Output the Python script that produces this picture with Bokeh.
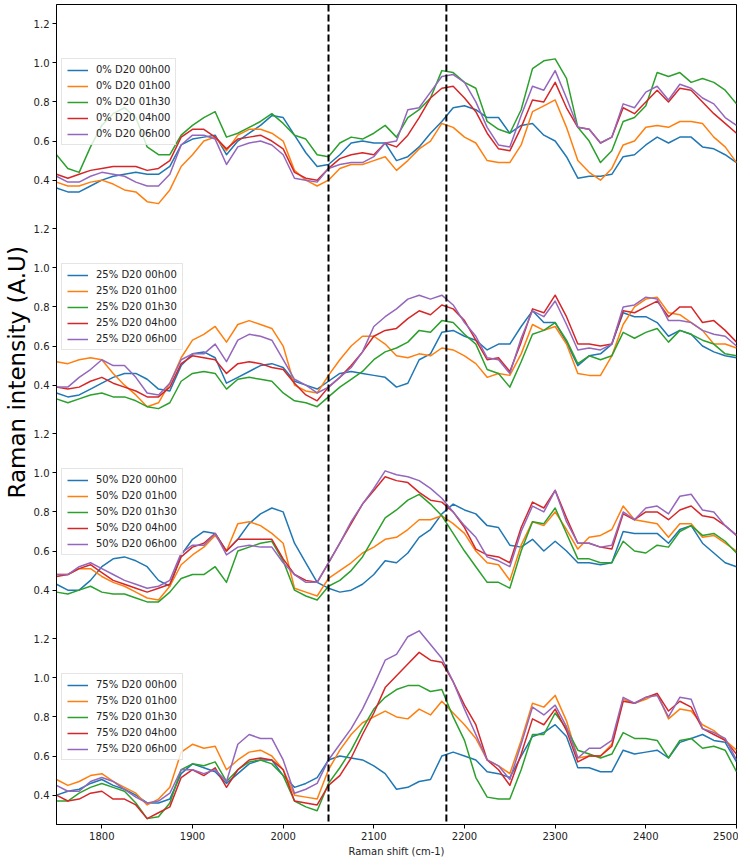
import numpy as np
from bokeh.plotting import figure
from bokeh.models import Range1d, FixedTicker, Span, Legend, LegendItem, Title
from bokeh.embed import file_html
from bokeh.resources import INLINE

# x sampling grid (cm-1)
raman_shift = np.arange(1750.0, 2500.01, 12.5)

# ---------------- 0% D20 ----------------
c0_t0000 = [0.36, 0.34, 0.34, 0.37, 0.40, 0.42, 0.43, 0.44, 0.43, 0.43, 0.47, 0.58, 0.61, 0.62, 0.63, 0.53, 0.60, 0.64, 0.68,
            0.73, 0.72, 0.63, 0.54, 0.47, 0.48, 0.53, 0.59, 0.60, 0.59, 0.59, 0.50, 0.52, 0.57, 0.64, 0.70, 0.77, 0.78, 0.76, 0.72,
            0.72,
            0.64, 0.68, 0.69, 0.63, 0.60, 0.52, 0.41, 0.42, 0.42, 0.43, 0.52, 0.53, 0.58, 0.62, 0.59, 0.62, 0.62, 0.57, 0.56, 0.53, 0.49]
c0_t0100 = [0.39, 0.37, 0.37, 0.39, 0.40, 0.38, 0.35, 0.34, 0.29, 0.28, 0.35, 0.47, 0.53, 0.60, 0.62, 0.55, 0.63, 0.66, 0.66,
            0.64, 0.60, 0.45, 0.40, 0.37, 0.40, 0.46, 0.48, 0.48, 0.50, 0.52, 0.45, 0.50, 0.56, 0.60, 0.69, 0.67, 0.62, 0.59, 0.50,
            0.49,
            0.49, 0.58, 0.75, 0.78, 0.81, 0.67, 0.50, 0.44, 0.40, 0.46, 0.58, 0.60, 0.67, 0.68, 0.67, 0.70, 0.70, 0.69, 0.62, 0.57, 0.49]
c0_t0130 = [0.53, 0.46, 0.44, 0.57, 0.68, 0.74, 0.77, 0.72, 0.57, 0.53, 0.53, 0.63, 0.68, 0.72, 0.75, 0.62, 0.64, 0.67, 0.70,
            0.74, 0.69, 0.63, 0.61, 0.53, 0.52, 0.59, 0.62, 0.61, 0.64, 0.68, 0.62, 0.72, 0.76, 0.82, 0.96, 0.95, 0.90, 0.87, 0.70,
            0.66,
            0.64, 0.76, 0.97, 1.01, 1.02, 0.92, 0.67, 0.60, 0.49, 0.55, 0.70, 0.72, 0.78, 0.95, 0.93, 0.95, 0.90, 0.92, 0.90, 0.86, 0.79]
c0_t0400 = [0.43, 0.41, 0.43, 0.45, 0.46, 0.47, 0.47, 0.47, 0.45, 0.46, 0.50, 0.62, 0.66, 0.66, 0.62, 0.56, 0.61, 0.62, 0.63,
            0.60, 0.56, 0.44, 0.41, 0.40, 0.46, 0.51, 0.53, 0.54, 0.53, 0.59, 0.57, 0.63, 0.72, 0.82, 0.87, 0.88, 0.82, 0.75, 0.64,
            0.56,
            0.55, 0.67, 0.81, 0.80, 0.90, 0.77, 0.67, 0.66, 0.59, 0.62, 0.77, 0.74, 0.80, 0.86, 0.80, 0.87, 0.86, 0.80, 0.74, 0.69, 0.64]
c0_t0600 = [0.42, 0.39, 0.39, 0.42, 0.44, 0.43, 0.42, 0.39, 0.37, 0.37, 0.43, 0.58, 0.63, 0.63, 0.61, 0.48, 0.57, 0.59, 0.60,
            0.58, 0.53, 0.41, 0.40, 0.39, 0.46, 0.48, 0.49, 0.49, 0.52, 0.59, 0.60, 0.76, 0.77, 0.85, 0.93, 0.94, 0.90, 0.80, 0.67,
            0.58,
            0.57, 0.73, 0.88, 0.86, 0.96, 0.82, 0.67, 0.66, 0.59, 0.62, 0.79, 0.77, 0.85, 0.88, 0.81, 0.89, 0.87, 0.82, 0.79, 0.72, 0.68]

# ---------------- 25% D20 ----------------
c25_t0000 = [0.36, 0.34, 0.35, 0.38, 0.41, 0.44, 0.46, 0.46, 0.43, 0.38, 0.37, 0.50, 0.56, 0.57, 0.54, 0.41, 0.44, 0.47, 0.50,
             0.51, 0.49, 0.42, 0.40, 0.38, 0.42, 0.46, 0.47, 0.46, 0.45, 0.44, 0.39, 0.41, 0.53, 0.56, 0.67, 0.68, 0.65, 0.63, 0.58,
             0.61,
             0.61, 0.70, 0.78, 0.72, 0.72, 0.62, 0.50, 0.55, 0.56, 0.61, 0.77, 0.75, 0.75, 0.72, 0.65, 0.68, 0.66, 0.60, 0.57, 0.55, 0.54]
c25_t0100 = [0.52, 0.51, 0.53, 0.54, 0.53, 0.46, 0.40, 0.35, 0.29, 0.31, 0.41, 0.54, 0.63, 0.66, 0.70, 0.62, 0.71, 0.73, 0.71,
             0.69, 0.60, 0.40, 0.37, 0.36, 0.45, 0.53, 0.60, 0.65, 0.65, 0.61, 0.55, 0.54, 0.56, 0.55, 0.59, 0.58, 0.55, 0.51, 0.44,
             0.46,
             0.45, 0.56, 0.71, 0.68, 0.70, 0.61, 0.46, 0.45, 0.45, 0.55, 0.71, 0.80, 0.84, 0.85, 0.77, 0.76, 0.72, 0.68, 0.61, 0.61, 0.59]
c25_t0130 = [0.33, 0.31, 0.33, 0.35, 0.36, 0.34, 0.34, 0.32, 0.29, 0.28, 0.31, 0.42, 0.46, 0.47, 0.46, 0.38, 0.43, 0.44, 0.43,
             0.42, 0.36, 0.32, 0.31, 0.29, 0.34, 0.39, 0.43, 0.47, 0.53, 0.57, 0.59, 0.62, 0.68, 0.67, 0.73, 0.72, 0.66, 0.61, 0.48,
             0.46,
             0.39, 0.52, 0.66, 0.68, 0.72, 0.63, 0.51, 0.55, 0.53, 0.55, 0.67, 0.64, 0.67, 0.69, 0.62, 0.68, 0.66, 0.63, 0.61, 0.56, 0.55]
c25_t0400 = [0.39, 0.38, 0.39, 0.42, 0.44, 0.41, 0.39, 0.37, 0.34, 0.34, 0.39, 0.51, 0.55, 0.54, 0.53, 0.46, 0.51, 0.52, 0.51,
             0.49, 0.48, 0.41, 0.35, 0.32, 0.39, 0.44, 0.50, 0.57, 0.65, 0.68, 0.69, 0.74, 0.78, 0.76, 0.81, 0.79, 0.73, 0.63, 0.53,
             0.54,
             0.47, 0.62, 0.79, 0.77, 0.86, 0.75, 0.61, 0.61, 0.60, 0.61, 0.78, 0.77, 0.80, 0.83, 0.75, 0.80, 0.80, 0.72, 0.73, 0.68, 0.62]
c25_t0600 = [0.39, 0.39, 0.44, 0.48, 0.53, 0.50, 0.50, 0.44, 0.36, 0.35, 0.41, 0.53, 0.56, 0.56, 0.61, 0.52, 0.63, 0.66, 0.65,
             0.63, 0.53, 0.43, 0.40, 0.36, 0.39, 0.44, 0.49, 0.57, 0.70, 0.75, 0.79, 0.84, 0.86, 0.84, 0.86, 0.81, 0.72, 0.65, 0.54,
             0.53,
             0.46, 0.64, 0.78, 0.75, 0.83, 0.71, 0.58, 0.59, 0.58, 0.61, 0.80, 0.81, 0.85, 0.84, 0.73, 0.73, 0.72, 0.68, 0.66, 0.65, 0.60]

# ---------------- 50% D20 ----------------
c50_t0000 = [0.43, 0.40, 0.40, 0.45, 0.52, 0.56, 0.57, 0.55, 0.52, 0.45, 0.42, 0.58, 0.66, 0.70, 0.69, 0.60, 0.66, 0.74, 0.79,
             0.82, 0.80, 0.64, 0.54, 0.44, 0.41, 0.39, 0.40, 0.43, 0.48, 0.55, 0.54, 0.59, 0.67, 0.71, 0.79, 0.84, 0.81, 0.79, 0.73,
             0.72,
             0.63, 0.62, 0.66, 0.60, 0.65, 0.60, 0.54, 0.54, 0.53, 0.54, 0.70, 0.69, 0.69, 0.69, 0.64, 0.71, 0.73, 0.64, 0.59, 0.54, 0.52]
c50_t0100 = [0.48, 0.48, 0.51, 0.51, 0.47, 0.44, 0.42, 0.39, 0.36, 0.35, 0.42, 0.53, 0.58, 0.62, 0.68, 0.60, 0.74, 0.75, 0.73,
             0.69, 0.64, 0.41, 0.39, 0.37, 0.46, 0.50, 0.54, 0.59, 0.62, 0.66, 0.67, 0.71, 0.76, 0.76, 0.78, 0.74, 0.69, 0.60, 0.54,
             0.53,
             0.45, 0.63, 0.75, 0.73, 0.80, 0.71, 0.61, 0.67, 0.68, 0.71, 0.83, 0.76, 0.75, 0.74, 0.67, 0.74, 0.74, 0.67, 0.68, 0.64, 0.60]
c50_t0130 = [0.39, 0.38, 0.40, 0.42, 0.39, 0.38, 0.38, 0.36, 0.34, 0.34, 0.39, 0.46, 0.48, 0.48, 0.52, 0.44, 0.60, 0.62, 0.64,
             0.65, 0.55, 0.40, 0.37, 0.35, 0.42, 0.45, 0.50, 0.57, 0.67, 0.77, 0.81, 0.86, 0.89, 0.84, 0.78, 0.69, 0.60, 0.52, 0.44,
             0.44,
             0.41, 0.60, 0.75, 0.74, 0.82, 0.69, 0.56, 0.56, 0.54, 0.54, 0.65, 0.60, 0.59, 0.63, 0.62, 0.70, 0.73, 0.68, 0.69, 0.65, 0.59]
c50_t0400 = [0.47, 0.48, 0.51, 0.53, 0.49, 0.45, 0.43, 0.41, 0.39, 0.41, 0.43, 0.57, 0.62, 0.64, 0.69, 0.60, 0.66, 0.66, 0.66,
             0.66, 0.56, 0.48, 0.45, 0.44, 0.54, 0.64, 0.74, 0.84, 0.91, 0.98, 0.96, 0.95, 0.90, 0.86, 0.85, 0.80, 0.72, 0.61, 0.58,
             0.57,
             0.54, 0.72, 0.85, 0.82, 0.91, 0.77, 0.64, 0.64, 0.62, 0.61, 0.79, 0.76, 0.80, 0.80, 0.76, 0.81, 0.83, 0.78, 0.77, 0.73, 0.68]
c50_t0600 = [0.48, 0.48, 0.52, 0.54, 0.51, 0.48, 0.45, 0.43, 0.41, 0.42, 0.45, 0.59, 0.63, 0.63, 0.69, 0.58, 0.62, 0.63, 0.62,
             0.62, 0.54, 0.48, 0.44, 0.44, 0.54, 0.64, 0.75, 0.84, 0.92, 1.01, 0.99, 0.98, 0.96, 0.92, 0.87, 0.80, 0.73, 0.67, 0.57,
             0.55,
             0.52, 0.70, 0.83, 0.80, 0.91, 0.75, 0.64, 0.64, 0.62, 0.63, 0.80, 0.76, 0.82, 0.83, 0.79, 0.88, 0.89, 0.81, 0.80, 0.73, 0.68]

# ---------------- 75% D20 ----------------
c75_t0000 = [0.40, 0.42, 0.43, 0.46, 0.48, 0.45, 0.43, 0.40, 0.36, 0.36, 0.38, 0.51, 0.56, 0.54, 0.52, 0.46, 0.51, 0.56, 0.58,
             0.58, 0.50, 0.44, 0.46, 0.49, 0.58, 0.60, 0.59, 0.58, 0.55, 0.51, 0.43, 0.44, 0.47, 0.48, 0.60, 0.62, 0.60, 0.58, 0.52,
             0.51,
             0.49, 0.60, 0.70, 0.72, 0.76, 0.70, 0.54, 0.54, 0.52, 0.52, 0.63, 0.61, 0.62, 0.63, 0.59, 0.67, 0.69, 0.71, 0.68, 0.67, 0.57]
c75_t0100 = [0.48, 0.45, 0.47, 0.50, 0.51, 0.47, 0.44, 0.41, 0.35, 0.38, 0.44, 0.62, 0.66, 0.64, 0.65, 0.53, 0.58, 0.62, 0.63,
             0.60, 0.53, 0.40, 0.39, 0.38, 0.53, 0.63, 0.71, 0.77, 0.80, 0.83, 0.80, 0.79, 0.84, 0.81, 0.88, 0.82, 0.76, 0.69, 0.58,
             0.55,
             0.51, 0.68, 0.87, 0.85, 0.91, 0.78, 0.59, 0.60, 0.60, 0.66, 0.89, 0.87, 0.89, 0.92, 0.79, 0.84, 0.83, 0.76, 0.73, 0.68, 0.63]
c75_t0130 = [0.37, 0.37, 0.41, 0.44, 0.46, 0.44, 0.42, 0.36, 0.28, 0.29, 0.36, 0.53, 0.56, 0.55, 0.57, 0.47, 0.53, 0.57, 0.58,
             0.56, 0.50, 0.37, 0.34, 0.32, 0.46, 0.54, 0.63, 0.74, 0.84, 0.90, 0.94, 0.96, 0.96, 0.93, 0.94, 0.80, 0.68, 0.49, 0.39,
             0.38,
             0.38, 0.53, 0.71, 0.71, 0.82, 0.74, 0.63, 0.61, 0.59, 0.61, 0.72, 0.69, 0.69, 0.68, 0.59, 0.68, 0.69, 0.64, 0.65, 0.63, 0.52]
c75_t0400 = [0.40, 0.37, 0.38, 0.41, 0.42, 0.38, 0.38, 0.35, 0.28, 0.31, 0.34, 0.49, 0.53, 0.50, 0.54, 0.44, 0.53, 0.58, 0.59,
             0.58, 0.53, 0.37, 0.36, 0.35, 0.45, 0.50, 0.59, 0.71, 0.82, 0.95, 1.01, 1.07, 1.13, 1.09, 1.08, 0.98, 0.86, 0.76, 0.58,
             0.53,
             0.45, 0.61, 0.79, 0.76, 0.84, 0.73, 0.57, 0.60, 0.60, 0.65, 0.88, 0.87, 0.90, 0.92, 0.83, 0.88, 0.85, 0.74, 0.71, 0.68, 0.61]
c75_t0600 = [0.45, 0.42, 0.42, 0.47, 0.49, 0.47, 0.43, 0.39, 0.36, 0.37, 0.41, 0.53, 0.53, 0.51, 0.53, 0.47, 0.66, 0.71, 0.69,
             0.69, 0.58, 0.41, 0.43, 0.46, 0.58, 0.66, 0.74, 0.84, 0.96, 1.09, 1.12, 1.21, 1.24, 1.17, 1.10, 0.98, 0.84, 0.71, 0.58,
             0.55,
             0.48, 0.66, 0.85, 0.81, 0.86, 0.75, 0.59, 0.64, 0.64, 0.68, 0.90, 0.87, 0.90, 0.91, 0.80, 0.90, 0.89, 0.74, 0.72, 0.69, 0.58]

concentrations = ["0%", "25%", "50%", "75%"]
times = ["00h00", "01h00", "01h30", "04h00", "06h00"]
colors = ["#1f77b4", "#ff7f0e", "#2ca02c", "#d62728", "#9467bd"]
y_tick_values = [0.4, 0.6, 0.8, 1.0, 1.2]
x_tick_values = [1800, 1900, 2000, 2100, 2200, 2300, 2400, 2500]
marker_shifts = [2050, 2180]

panels = [
    [c0_t0000, c0_t0100, c0_t0130, c0_t0400, c0_t0600],
    [c25_t0000, c25_t0100, c25_t0130, c25_t0400, c25_t0600],
    [c50_t0000, c50_t0100, c50_t0130, c50_t0400, c50_t0600],
    [c75_t0000, c75_t0100, c75_t0130, c75_t0400, c75_t0600],
]
for pan in panels:
    for s in pan:
        assert len(s) == len(raman_shift), len(s)

P = 1.048      # height of one stacked panel in data units
Y0 = 0.25      # bottom of each panel's y range
FW, FH = 680, 820

p = figure(frame_width=FW, frame_height=FH, output_backend="svg", toolbar_location=None,
           x_range=Range1d(1750, 2500), y_range=Range1d(Y0, Y0 + 4 * P),
           min_border_left=0, min_border_right=2, min_border_top=4, min_border_bottom=0,
           background_fill_color="white", border_fill_color="white")
p.xgrid.visible = False
p.ygrid.visible = False
p.outline_line_color = "black"
p.outline_line_width = 1

p.extra_y_ranges = {f"p{k}": Range1d(Y0 - (3 - k) * P, Y0 + (k + 1) * P) for k in range(4)}

for k, pan in enumerate(panels):
    items = []
    for s, series in enumerate(pan):
        r = p.line(raman_shift, series, y_range_name=f"p{k}", line_color=colors[s],
                   line_width=1.5, line_join="round")
        items.append(LegendItem(label=f"{concentrations[k]} D20 {times[s]}", renderers=[r]))
    bottom_px = (0.575 - Y0 + (3 - k) * P) / (4 * P) * FH
    leg = Legend(items=items, location=(5, bottom_px),
                 label_text_font="DejaVu Sans", label_text_font_size="10px", label_text_color="#222222",
                 glyph_width=21, glyph_height=10, label_height=10, label_standoff=8,
                 spacing=5, padding=5, margin=0,
                 border_line_color="#cccccc", border_line_width=1,
                 background_fill_color="white", background_fill_alpha=0.8)
    p.add_layout(leg)

for xs in marker_shifts:
    p.add_layout(Span(location=xs, dimension="height", line_color="black",
                      line_width=2, line_dash="7 3"))

ticks = []
overrides = {}
for j in range(4):
    for v in y_tick_values:
        t = round(j * P + v, 4)
        ticks.append(t)
        overrides[t] = f"{v:.1f}"

yax = p.yaxis[0]
yax.ticker = FixedTicker(ticks=ticks, minor_ticks=[])
yax.major_label_overrides = overrides
yax.major_tick_in = 0
yax.major_tick_out = 4
yax.minor_tick_line_color = None
yax.major_label_text_font = "DejaVu Sans"
yax.major_label_text_font_size = "10px"
yax.major_label_text_color = "#222222"
yax.major_label_standoff = 3
yax.axis_line_color = "black"

xax = p.xaxis[0]
xax.ticker = FixedTicker(ticks=x_tick_values, minor_ticks=[])
xax.major_tick_in = 0
xax.major_tick_out = 4
xax.minor_tick_line_color = None
xax.major_label_text_font = "DejaVu Sans"
xax.major_label_text_font_size = "10px"
xax.major_label_text_color = "#222222"
xax.major_label_standoff = 3
xax.axis_label = "Raman shift (cm-1)"
xax.axis_label_text_font = "DejaVu Sans"
xax.axis_label_text_font_size = "10px"
xax.axis_label_text_font_style = "normal"
xax.axis_label_text_color = "#222222"
xax.axis_label_standoff = 3
xax.axis_line_color = "black"

ytitle = Title(text="Raman intensity (A.U)", align="left", offset=326,
               text_font="DejaVu Sans", text_font_size="23px", text_font_style="normal",
               text_color="black", standoff=2)
p.add_layout(ytitle, "left")

open("out.html", "w").write(file_html(p, INLINE))
